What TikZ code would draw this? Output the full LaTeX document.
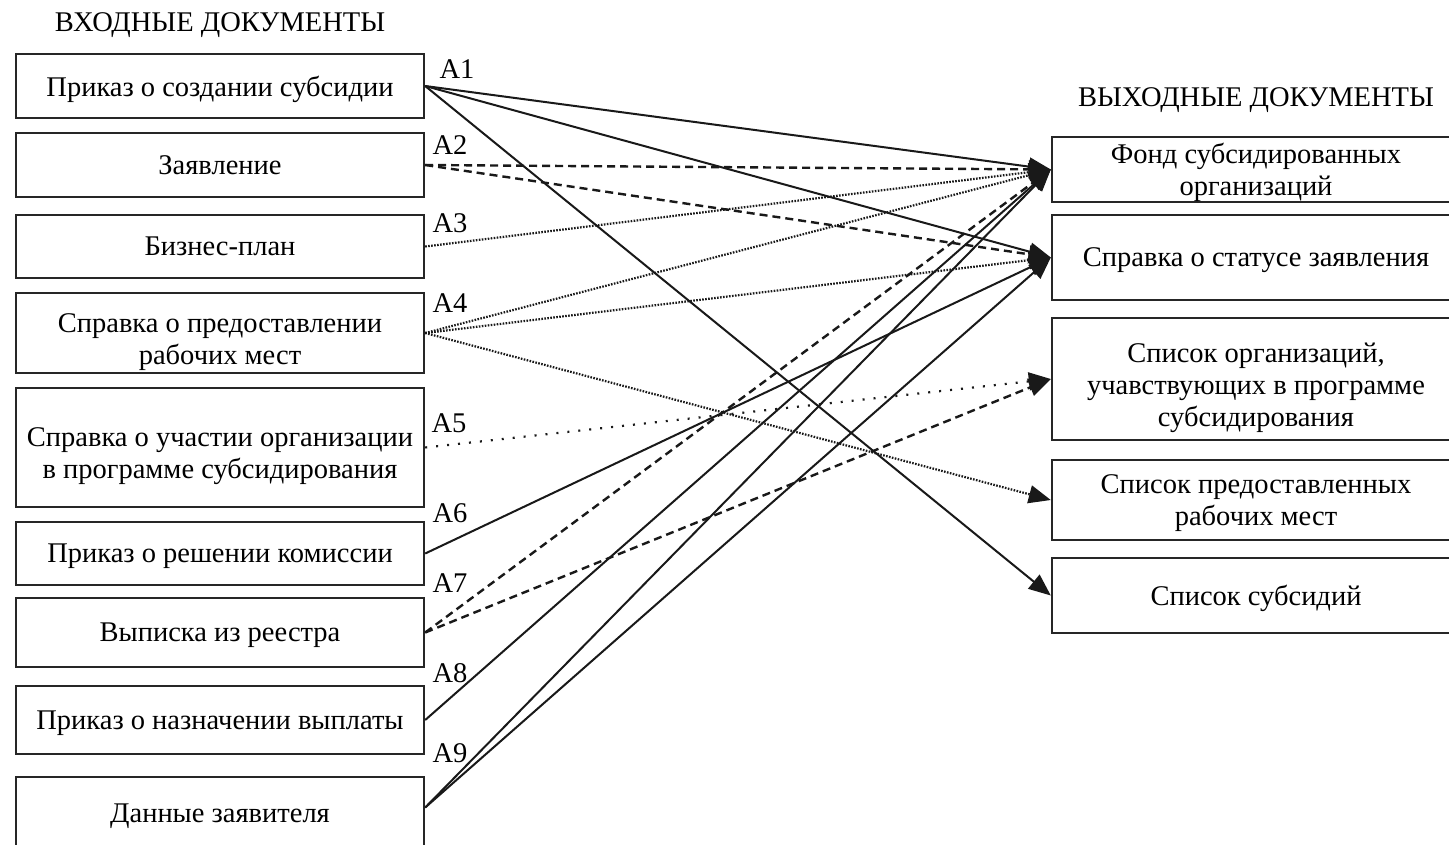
\documentclass[tikz,border=0pt]{standalone}
\usepackage{fontspec}
\setmainfont{Liberation Serif}
\usetikzlibrary{arrows.meta}
\newcommand\diagfs{\fontsize{28.5}{32}\selectfont}
\newcommand\lowstrut{\rule{0pt}{30pt}}
\begin{document}
\begin{tikzpicture}[x=1pt,y=-1pt,
  box/.style={draw=black!85,line width=2.4pt,minimum width=408pt,inner sep=0pt,align=center,font=\diagfs,text depth=0pt},
  lbl/.style={inner sep=0pt,font=\diagfs,text depth=0pt},
  conn/.style={line width=2pt,draw=black!90,-{Triangle[length=22pt,width=18pt]}},
  solidc/.style={conn},
  dashc/.style={conn,line width=2.4pt,dash pattern=on 8pt off 5pt},
  dotc/.style={conn,line width=2.2pt,dash pattern=on 1.6pt off 1.4pt},
  sdotc/.style={conn,line width=2.2pt,dash pattern=on 2pt off 9pt}]
\clip (0,0) rectangle (1449,844);
\fill[white] (0,0) rectangle (1449,844);
% titles
\node[lbl] (tin) at (220,22) {ВХОДНЫЕ ДОКУМЕНТЫ};
\node[lbl] (tout) at (1256,97) {ВЫХОДНЫЕ ДОКУМЕНТЫ};
% left boxes
\node[box,minimum height=64pt] (L1) at (220,86) {Приказ о создании субсидии};
\node[box,minimum height=64pt] (L2) at (220,165) {Заявление};
\node[box,minimum height=63pt] (L3) at (220,246.5) {Бизнес-план};
\node[box,minimum height=80pt] (L4) at (220,333) {\lowstrut Справка о предоставлении\\рабочих мест};
\node[box,minimum height=119pt] (L5) at (220,447.5) {\lowstrut Справка о участии организации\\в программе субсидирования};
\node[box,minimum height=63pt] (L6) at (220,553.5) {Приказ о решении комиссии};
\node[box,minimum height=69pt] (L7) at (220,632.5) {Выписка из реестра};
\node[box,minimum height=68pt] (L8) at (220,720) {Приказ о назначении выплаты};
\node[box,minimum height=73pt] (L9) at (220,813.5) {Данные заявителя};
% right boxes
\node[box,minimum height=65pt] (R1) at (1256,169.5) {Фонд субсидированных\\организаций};
\node[box,minimum height=85pt] (R2) at (1256,257.5) {Справка о статусе заявления};
\node[box,minimum height=122pt] (R3) at (1256,379) {\lowstrut Список организаций,\\учавствующих в программе\\субсидирования};
\node[box,minimum height=80pt] (R4) at (1256,500) {Список предоставленных\\рабочих мест};
\node[box,minimum height=75pt] (R5) at (1256,595.5) {Список субсидий};
% labels
\node[lbl] (a1) at (457,69) {A1};
\node[lbl] (a2) at (450,145) {A2};
\node[lbl] (a3) at (450,223) {A3};
\node[lbl] (a4) at (450,303) {A4};
\node[lbl] (a5) at (449,423) {A5};
\node[lbl] (a6) at (450,513) {A6};
\node[lbl] (a7) at (450,583) {A7};
\node[lbl] (a8) at (450,673) {A8};
\node[lbl] (a9) at (450,753) {A9};
% connectors
\draw[solidc] (L1.east) -- (R1.west);
\draw[solidc] (L1.east) -- (R2.west);
\draw[solidc] (L1.east) -- (R5.west);
\draw[dashc] (L2.east) -- (R1.west);
\draw[dashc] (L2.east) -- (R2.west);
\draw[dotc] (L3.east) -- (R1.west);
\draw[dotc] (L4.east) -- (R1.west);
\draw[dotc] (L4.east) -- (R2.west);
\draw[dotc] (L4.east) -- (R4.west);
\draw[sdotc] (L5.east) -- (R3.west);
\draw[solidc] (L6.east) -- (R2.west);
\draw[dashc] (L7.east) -- (R1.west);
\draw[dashc] (L7.east) -- (R3.west);
\draw[solidc] (L8.east) -- (R1.west);
\draw[solidc] ([yshift=6pt]L9.east) -- (R1.west);
\draw[solidc] ([yshift=6pt]L9.east) -- (R2.west);
\end{tikzpicture}
\end{document}
